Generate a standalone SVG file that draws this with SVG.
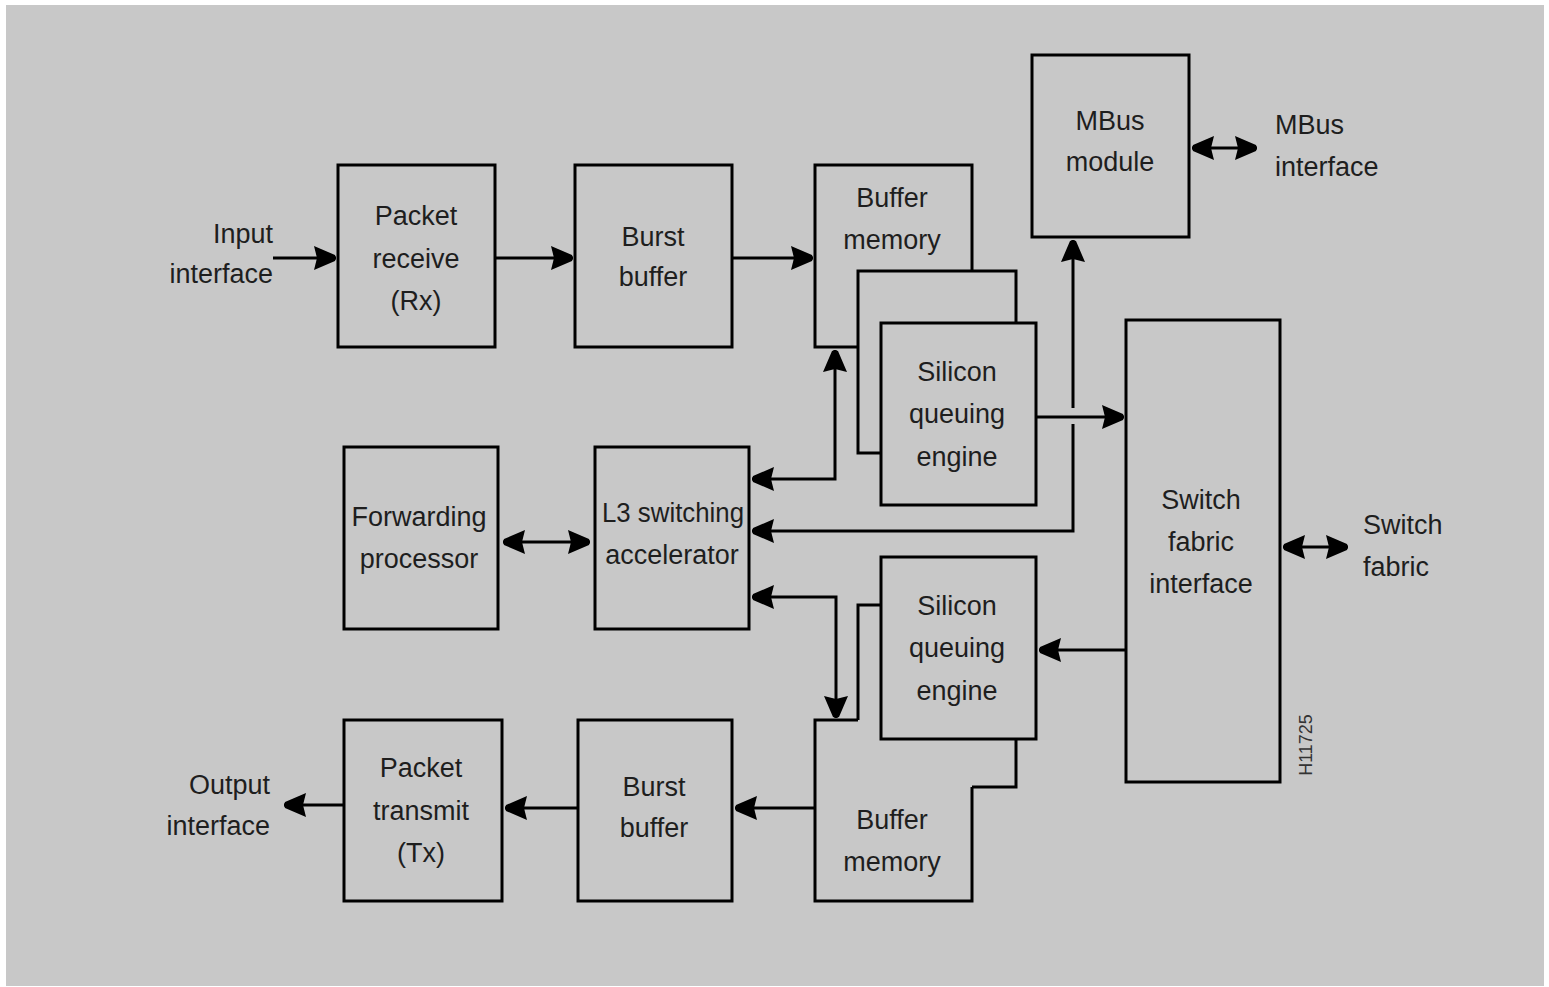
<svg xmlns="http://www.w3.org/2000/svg" width="1549" height="987" viewBox="0 0 1549 987">
<style>
.box{fill:#c8c8c8;stroke:#000;stroke-width:3}
.edge{fill:none;stroke:#000;stroke-width:3}
.ln{fill:none;stroke:#000;stroke-width:3}
text{font-family:"Liberation Sans",Arial,sans-serif;font-size:27px;fill:#1e1e1e}
.c{text-anchor:middle}
.r{text-anchor:end}
</style>
<defs>
<marker id="ah" markerUnits="userSpaceOnUse" markerWidth="30" markerHeight="30" viewBox="-25 -15 30 30" refX="0" refY="0" orient="auto-start-reverse">
<path d="M-22,-12 L-1,-3 L0,0 L-1,3 L-22,12 L-19,0 Z" fill="#000"/>
</marker>
</defs>
<rect x="0" y="0" width="1549" height="987" fill="#fff"/>
<rect x="6" y="5" width="1538" height="981" fill="#c8c8c8"/>

<g id="connectors">
<path class="ln" d="M273,258 H336" marker-end="url(#ah)"/>
<path class="ln" d="M495,258 H573" marker-end="url(#ah)"/>
<path class="ln" d="M732,258 H813" marker-end="url(#ah)"/>
<path class="ln" d="M752,479 H835 V350" marker-start="url(#ah)" marker-end="url(#ah)"/>
<path class="ln" d="M1036,417 H1124" marker-end="url(#ah)"/>
<path class="ln" d="M1073,408 V240" marker-end="url(#ah)"/>
<path class="ln" d="M1073,424 V531 H752" marker-end="url(#ah)"/>
<path class="ln" d="M752,597 H836 V718" marker-start="url(#ah)" marker-end="url(#ah)"/>
<path class="ln" d="M1126,650 H1039" marker-end="url(#ah)"/>
<path class="ln" d="M815,808 H735" marker-end="url(#ah)"/>
<path class="ln" d="M578,808 H505" marker-end="url(#ah)"/>
<path class="ln" d="M344,805 H284" marker-end="url(#ah)"/>
<path class="ln" d="M503,542 H590" marker-start="url(#ah)" marker-end="url(#ah)"/>
<path class="ln" d="M1192,148 H1257" marker-start="url(#ah)" marker-end="url(#ah)"/>
<path class="ln" d="M1283,547 H1348" marker-start="url(#ah)" marker-end="url(#ah)"/>
</g>

<g id="input-label">
<text class="r" x="273" y="243">Input</text>
<text class="r" x="273" y="283">interface</text>
</g>
<g id="packet-receive">
<rect class="box" x="338" y="165" width="157" height="182"/>
<text class="c" x="416" y="225">Packet</text>
<text class="c" x="416" y="268">receive</text>
<text class="c" x="416" y="310">(Rx)</text>
</g>
<g id="burst-buffer-top">
<rect class="box" x="575" y="165" width="157" height="182"/>
<text class="c" x="653" y="246">Burst</text>
<text class="c" x="653" y="286">buffer</text>
</g>
<g id="buffer-memory-top">
<rect class="box" x="815" y="165" width="157" height="182"/>
<text class="c" x="892" y="207">Buffer</text>
<text class="c" x="892" y="249">memory</text>
</g>
<g id="stack-top">
<rect class="box" x="858" y="271" width="158" height="182"/>
</g>
<g id="silicon-top">
<rect class="box" x="881" y="323" width="155" height="182"/>
<text class="c" x="957" y="381">Silicon</text>
<text class="c" x="957" y="423">queuing</text>
<text class="c" x="957" y="466">engine</text>
</g>
<g id="mbus-module">
<rect class="box" x="1032" y="55" width="157" height="182"/>
<text class="c" x="1110" y="130">MBus</text>
<text class="c" x="1110" y="171">module</text>
</g>
<g id="mbus-interface-label">
<text x="1275" y="134">MBus</text>
<text x="1275" y="176">interface</text>
</g>
<g id="switch-fabric-interface">
<rect class="box" x="1126" y="320" width="154" height="462"/>
<text class="c" x="1201" y="509">Switch</text>
<text class="c" x="1201" y="551">fabric</text>
<text class="c" x="1201" y="593">interface</text>
</g>
<g id="switch-fabric-label">
<text x="1363" y="534">Switch</text>
<text x="1363" y="576">fabric</text>
</g>
<g id="forwarding-processor">
<rect class="box" x="344" y="447" width="154" height="182"/>
<text class="c" x="419" y="526">Forwarding</text>
<text class="c" x="419" y="568">processor</text>
</g>
<g id="l3-accelerator">
<rect class="box" x="595" y="447" width="154" height="182"/>
<text class="c" x="673" y="522" textLength="142" lengthAdjust="spacingAndGlyphs">L3 switching</text>
<text class="c" x="672" y="564">accelerator</text>
</g>
<g id="buffer-memory-bottom">
<path class="edge" d="M858,720 H815 V901 H972 V787"/>
<text class="c" x="892" y="829">Buffer</text>
<text class="c" x="892" y="871">memory</text>
</g>
<g id="stack-bottom">
<path class="edge" d="M858,720 V605 H882"/>
<path class="edge" d="M1016,739 V787 H972"/>
</g>
<g id="silicon-bottom">
<rect class="box" x="881" y="557" width="155" height="182"/>
<text class="c" x="957" y="615">Silicon</text>
<text class="c" x="957" y="657">queuing</text>
<text class="c" x="957" y="700">engine</text>
</g>
<g id="burst-buffer-bottom">
<rect class="box" x="578" y="720" width="154" height="181"/>
<text class="c" x="654" y="796">Burst</text>
<text class="c" x="654" y="837">buffer</text>
</g>
<g id="packet-transmit">
<rect class="box" x="344" y="720" width="158" height="181"/>
<text class="c" x="421" y="777">Packet</text>
<text class="c" x="421" y="820">transmit</text>
<text class="c" x="421" y="862">(Tx)</text>
</g>
<g id="output-label">
<text class="r" x="270" y="794">Output</text>
<text class="r" x="270" y="835">interface</text>
</g>
<text x="0" y="0" transform="translate(1312,745) rotate(-90)" text-anchor="middle" style="font-size:18px;fill:#333">H11725</text>
</svg>
